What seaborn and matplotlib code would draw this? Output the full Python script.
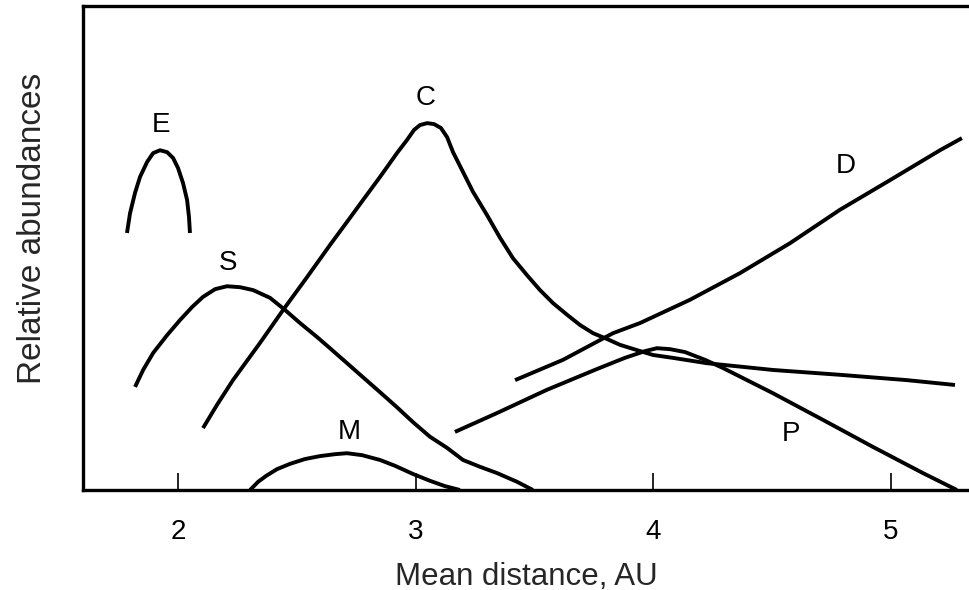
import matplotlib
matplotlib.use("Agg")
import matplotlib.pyplot as plt
import seaborn as sns
import pandas as pd

# Relative abundance of asteroid taxonomic classes vs. mean heliocentric distance
e_x = [1.785, 1.798, 1.819, 1.840, 1.870, 1.895, 1.924, 1.954, 1.979, 2.000,
       2.021, 2.038, 2.046, 2.050]
e_y = [53.1, 57.2, 61.4, 64.7, 67.8, 69.6, 70.2, 69.8, 68.6, 66.5,
       63.4, 59.9, 56.4, 53.1]

s_x = [1.819, 1.853, 1.895, 1.954, 2.008, 2.059, 2.105, 2.156, 2.206, 2.261,
       2.316, 2.387, 2.450, 2.513, 2.585, 2.639, 2.711, 2.778, 2.850, 2.921,
       2.989, 3.060, 3.132, 3.199, 3.270, 3.342, 3.426, 3.493]
s_y = [21.3, 24.8, 28.3, 32.0, 35.1, 37.8, 39.9, 41.5, 42.1, 41.9,
       41.3, 39.7, 37.2, 34.5, 31.6, 29.3, 26.2, 23.3, 20.2, 17.1,
       14.0, 11.0, 8.7, 6.2, 4.8, 3.5, 1.7, 0.0]

c_x = [2.105, 2.164, 2.231, 2.345, 2.442, 2.543, 2.639, 2.711, 2.778, 2.850,
       2.921, 2.963, 2.993, 3.018, 3.048, 3.077, 3.106, 3.132, 3.157, 3.199,
       3.241, 3.300, 3.355, 3.409, 3.468, 3.523, 3.578, 3.637, 3.691, 3.746,
       3.805, 3.859, 3.931, 3.998, 4.082, 4.225, 4.503, 4.785, 5.067, 5.269]
c_y = [12.8, 17.6, 22.7, 30.4, 37.2, 44.0, 50.6, 55.4, 59.9, 64.7,
       69.6, 72.3, 74.4, 75.4, 75.8, 75.6, 74.8, 72.9, 69.8, 65.7,
       61.6, 56.8, 52.1, 47.9, 44.4, 41.3, 38.6, 36.2, 34.1, 32.4,
       31.2, 30.0, 28.9, 27.9, 27.3, 26.2, 24.8, 23.8, 22.7, 21.7]

m_x = [2.303, 2.337, 2.370, 2.416, 2.471, 2.534, 2.597, 2.660, 2.711, 2.774,
       2.850, 2.913, 2.989, 3.060, 3.123, 3.186]
m_y = [0.0, 1.7, 2.9, 4.3, 5.4, 6.4, 7.0, 7.4, 7.6, 7.2,
       6.2, 5.0, 3.3, 1.9, 0.8, 0.0]

p_x = [3.165, 3.342, 3.552, 3.763, 3.880, 3.965, 4.015, 4.070, 4.133, 4.217,
       4.293, 4.503, 4.713, 4.924, 5.134, 5.277]
p_y = [12.0, 15.9, 20.7, 25.0, 27.3, 28.7, 29.3, 29.1, 28.5, 26.9,
       25.2, 20.0, 14.5, 8.9, 3.5, 0.0]

d_x = [3.418, 3.620, 3.830, 3.944, 4.154, 4.364, 4.575, 4.785, 4.995, 5.206, 5.298]
d_y = [22.7, 26.9, 32.4, 34.5, 39.3, 44.8, 51.0, 57.9, 64.0, 70.2, 72.7]

classes = ["E", "S", "C", "M", "P", "D"]
label_pos = {"E": (1.93, 75.5), "S": (2.21, 47), "C": (3.04, 81),
             "M": (2.72, 12), "P": (4.58, 11.5), "D": (4.81, 67)}

xticks = [2, 3, 4, 5]

series = {"E": (e_x, e_y), "S": (s_x, s_y), "C": (c_x, c_y),
          "M": (m_x, m_y), "P": (p_x, p_y), "D": (d_x, d_y)}
frames = []
for name in classes:
    xs, ys = series[name]
    frames.append(pd.DataFrame({"distance": xs, "abundance": ys, "cls": name}))
df = pd.concat(frames, ignore_index=True)

sns.set_style("white")
plt.rcParams["font.family"] = ["Liberation Sans", "DejaVu Sans"]

fig = plt.figure(figsize=(9.69, 5.90), dpi=100)
ax = fig.add_axes([83 / 969, 100 / 590, 1 - 83 / 969, 484 / 590])

for name in classes:
    sub = df[df["cls"] == name]
    sns.lineplot(data=sub, x="distance", y="abundance", sort=False,
                 color="black", linewidth=2.8, ax=ax, legend=False,
                 estimator=None, solid_joinstyle="round",
                 solid_capstyle="butt")

for name in classes:
    lx, ly = label_pos[name]
    ax.text(lx, ly, name, fontsize=20, ha="center", va="center", color="black")

ax.set_xlim(1.600, 5.328)
ax.set_ylim(0, 100)
ax.set_xticks(xticks)
ax.set_xticklabels([str(t) for t in xticks], fontsize=20)
ax.set_yticks([])
ax.tick_params(axis="x", direction="in", length=12, width=1.2,
               pad=21, colors="black", bottom=True)

ax.set_xlabel("Mean distance, AU", fontsize=22.5, labelpad=12)
ax.set_ylabel("Relative abundances", fontsize=24)
ax.yaxis.set_label_coords(-0.039, 0.541)

for side in ["left", "top", "bottom"]:
    ax.spines[side].set_visible(True)
    ax.spines[side].set_color("black")
    ax.spines[side].set_linewidth(2.4)
ax.spines["right"].set_visible(False)

fig.savefig("out.png", dpi=100)
